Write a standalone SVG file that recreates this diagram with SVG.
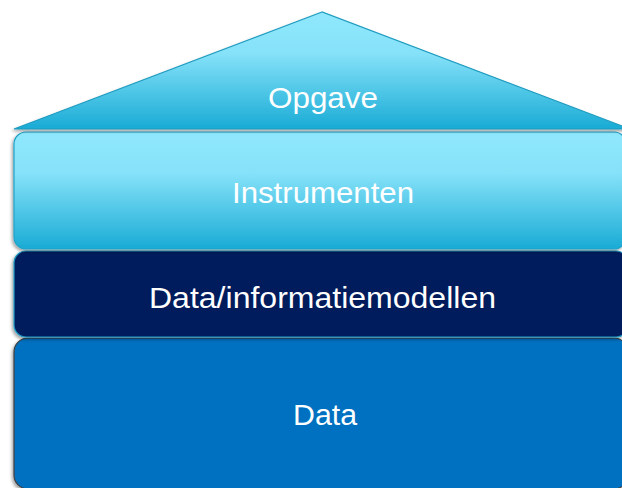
<svg xmlns="http://www.w3.org/2000/svg" width="622" height="488" viewBox="0 0 622 488">
  <defs>
    <linearGradient id="lightGrad" x1="0" y1="0" x2="0" y2="1">
      <stop offset="0" stop-color="#8fe8fd"/>
      <stop offset="0.35" stop-color="#86e2f9"/>
      <stop offset="1" stop-color="#19abd5"/>
    </linearGradient>
    <filter id="shadow" x="-5%" y="-5%" width="110%" height="115%">
      <feDropShadow dx="-1.5" dy="2" stdDeviation="1.8" flood-color="#000" flood-opacity="0.35"/>
    </filter>
    <style>
      .lbl { font-family: "Liberation Sans", Arial, sans-serif; font-size: 29px; fill: #ffffff; text-anchor: middle; }
    </style>
  </defs>
  <rect width="622" height="488" fill="#ffffff"/>
  <g id="data">
    <rect x="14" y="338" width="614" height="151" rx="14" fill="#0070c0" stroke="#404040" stroke-width="1.2" filter="url(#shadow)"/>
    <text class="lbl" x="325" y="425" textLength="64" lengthAdjust="spacingAndGlyphs">Data</text>
  </g>
  <g id="modellen">
    <rect x="14" y="251" width="614" height="86" rx="12" fill="#001f5c" stroke="#1e9bc4" stroke-width="1.2" filter="url(#shadow)"/>
    <text class="lbl" x="322.5" y="308" textLength="347" lengthAdjust="spacingAndGlyphs">Data/informatiemodellen</text>
  </g>
  <g id="instrumenten">
    <rect x="14" y="132" width="612" height="117" rx="12" fill="url(#lightGrad)" stroke="#22a2c8" stroke-width="1.2" filter="url(#shadow)"/>
    <text class="lbl" x="323" y="203" textLength="182" lengthAdjust="spacingAndGlyphs">Instrumenten</text>
  </g>
  <g id="opgave">
    <polygon points="322,12 14,129 630,129" fill="url(#lightGrad)" stroke="#1f9cc0" stroke-width="1.2" filter="url(#shadow)"/>
    <text class="lbl" x="323" y="108" textLength="110" lengthAdjust="spacingAndGlyphs">Opgave</text>
  </g>
  <g id="connectors"/>
</svg>
